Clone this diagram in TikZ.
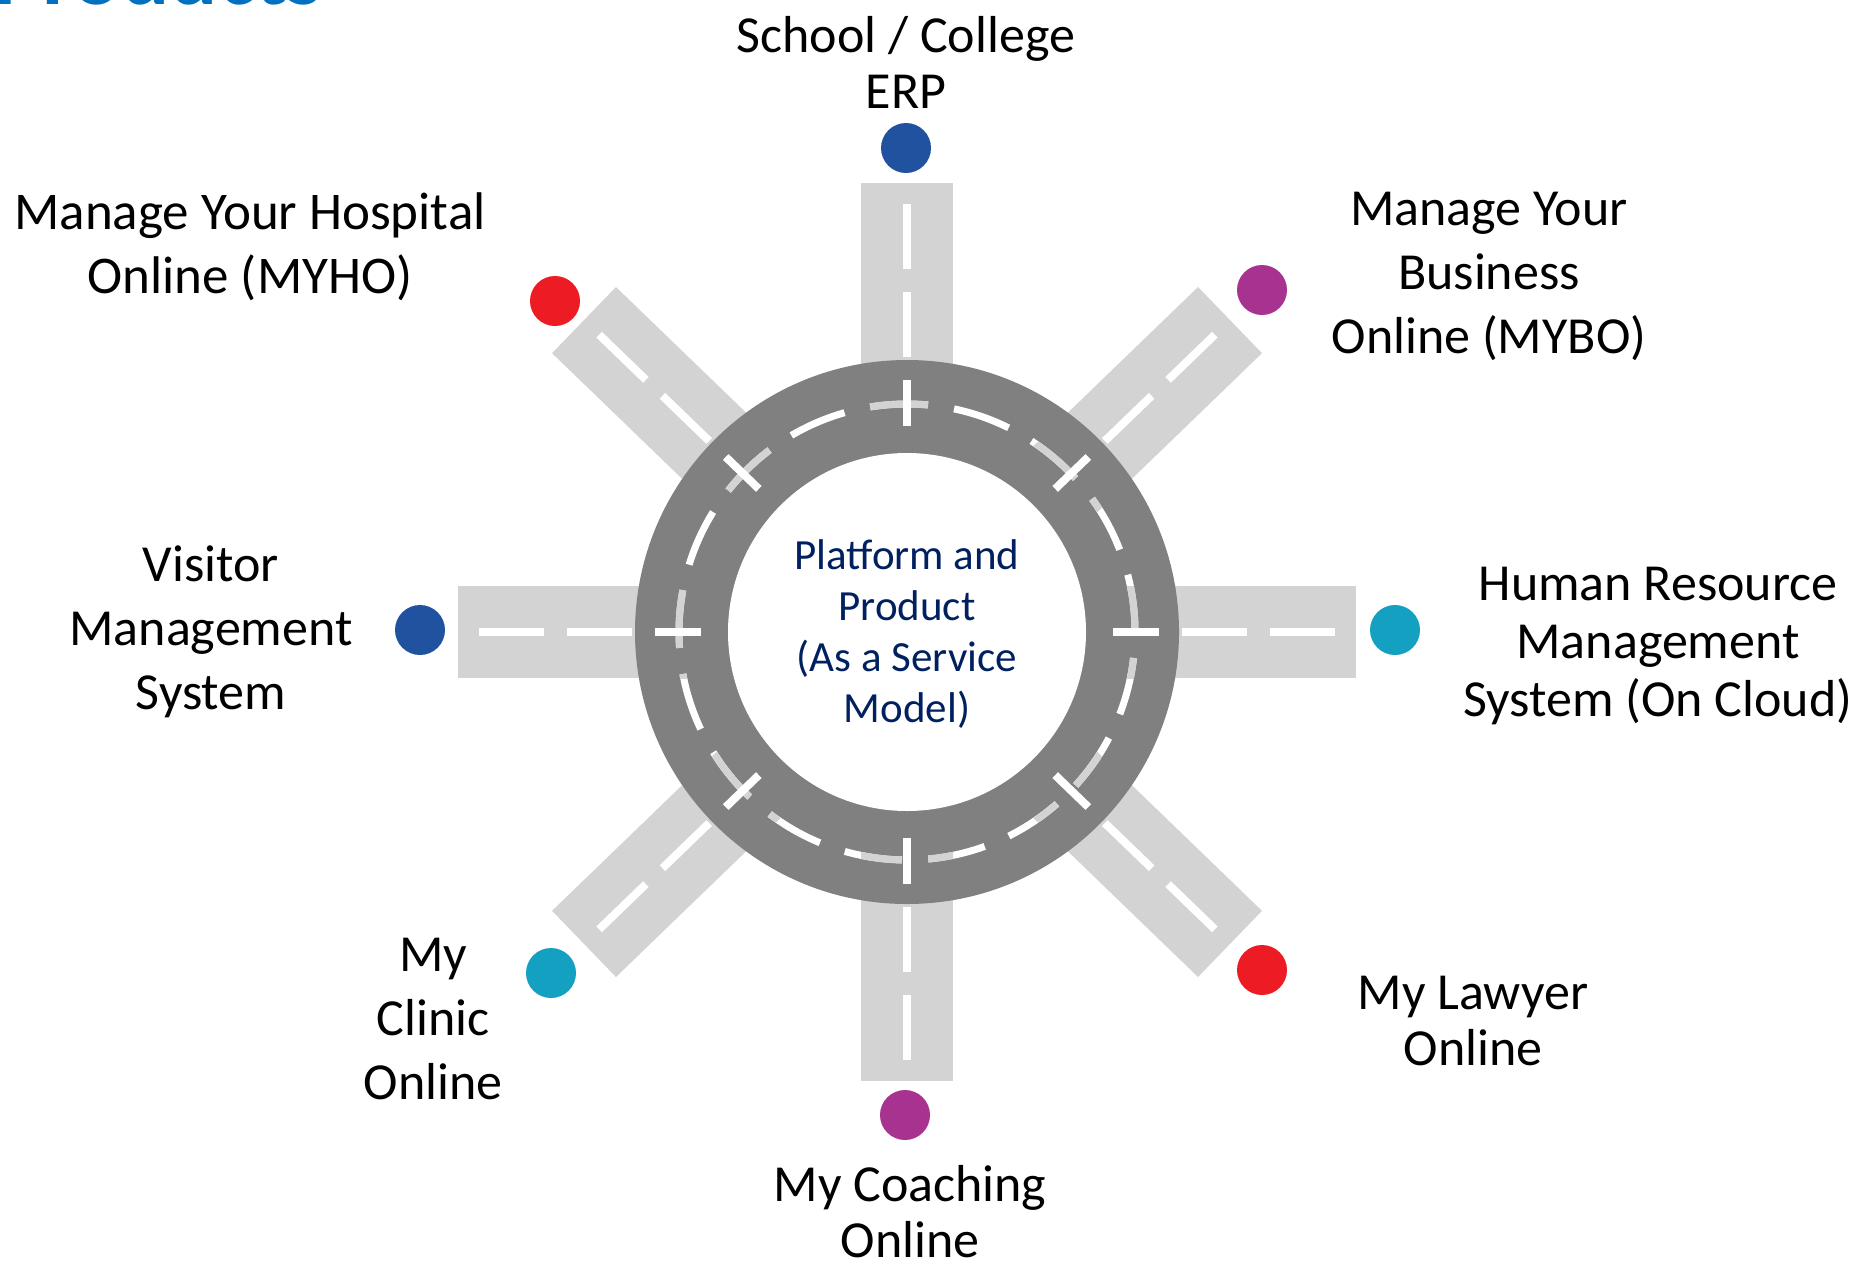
\documentclass[tikz,border=0pt]{standalone}
\usepackage{fontspec}
\setmainfont{Carlito}
\definecolor{roadgray}{RGB}{211,211,211}
\definecolor{ringgray}{RGB}{128,128,128}
\definecolor{dblue}{RGB}{33,82,160}
\definecolor{dred}{RGB}{237,28,36}
\definecolor{dpurple}{RGB}{168,50,143}
\definecolor{dteal}{RGB}{20,160,192}
\definecolor{navy}{RGB}{0,32,96}
\definecolor{titleblue}{RGB}{0,112,192}
\begin{document}
\begin{tikzpicture}[x=1pt,y=-1pt,
  road/.style={fill=roadgray},
  lane/.style={draw=white,line width=8pt},
  ringdash/.style={line width=7pt,dash pattern=on 58pt off 26.3pt,dash phase=58.3pt},
  tick/.style={draw=white,line width=8pt},
  dot/.style={circle,minimum size=50pt,inner sep=0pt,draw=none},
  lbl/.style={font=\fontsize{52}{64}\selectfont,align=center,text=black,inner sep=0pt},
  lbltight/.style={font=\fontsize{52}{56}\selectfont,align=center,text=black,inner sep=0pt},
  centertxt/.style={font=\fontsize{43}{51}\selectfont,align=center,text=navy,inner sep=0pt}]
\useasboundingbox (0,0) rectangle (1870,1269);
\clip (0,0) rectangle (1870,1269);
\fill[white] (0,0) rectangle (1870,1269);
\coordinate (C) at (907,632);
% title (cut off at the top)
\node[anchor=base west,font=\fontsize{90}{100}\selectfont\bfseries,text=titleblue,inner sep=0pt] (title) at (-6,4) {Products};
% roads
\foreach \a in {0,44,90,136,180,224,270,316}{
  \begin{scope}[shift={(C)},rotate=\a]
    \fill[road] (0,-46) rectangle (449,46);
    \draw[lane] (275,0) -- (340,0);
    \draw[lane] (363,0) -- (428,0);
  \end{scope}
}
% ring
\fill[ringgray] (C) circle[radius=272];
\fill[white] (C) circle[radius=179];
\draw[white,ringdash] (C) circle[radius=228];
\foreach \a in {0,44,90,136,180,224,270,316}{
  \begin{scope}
    \clip[shift={(C)},rotate=\a] (150,-46) rectangle (300,46);
    \draw[roadgray,ringdash] (C) circle[radius=228];
  \end{scope}
  \draw[tick,shift={(C)},rotate=\a] (206,0) -- (252,0);
}
% centre text
\node[centertxt] (hub) at (907,634) {Platform and\\Product\\(As a Service\\Model)};
% dots
\node[dot,fill=dblue]   (d1) at (906,148) {};
\node[dot,fill=dpurple] (d2) at (1262,290) {};
\node[dot,fill=dteal]   (d3) at (1395,630) {};
\node[dot,fill=dred]    (d4) at (1262,970) {};
\node[dot,fill=dpurple] (d5) at (905,1115) {};
\node[dot,fill=dteal]   (d6) at (551,973) {};
\node[dot,fill=dblue]   (d7) at (420,630) {};
\node[dot,fill=dred]    (d8) at (555,301) {};
% labels
\node[lbltight] (l1) at (906,62) {School / College\\ERP};
\node[lbl] (l2) at (1489,276) {Manage Your\\Business\\Online (MYBO)};
\node[lbltight,font=\fontsize{52}{58}\selectfont] (l3) at (1658,646) {Human Resource\\Management\\System (On Cloud)};
\node[lbltight] (l4) at (1473,1021) {My Lawyer\\Online};
\node[lbltight] (l5) at (910,1212) {My Coaching\\Online};
\node[lbl] (l6) at (433,1019) {My\\Clinic\\Online};
\node[lbl] (l7) at (211,632) {Visitor\\Management\\System};
\node[lbl,font=\fontsize{53}{64}\selectfont] (l8) at (250,247) {Manage Your Hospital\\Online (MYHO)};
\end{tikzpicture}
\end{document}
